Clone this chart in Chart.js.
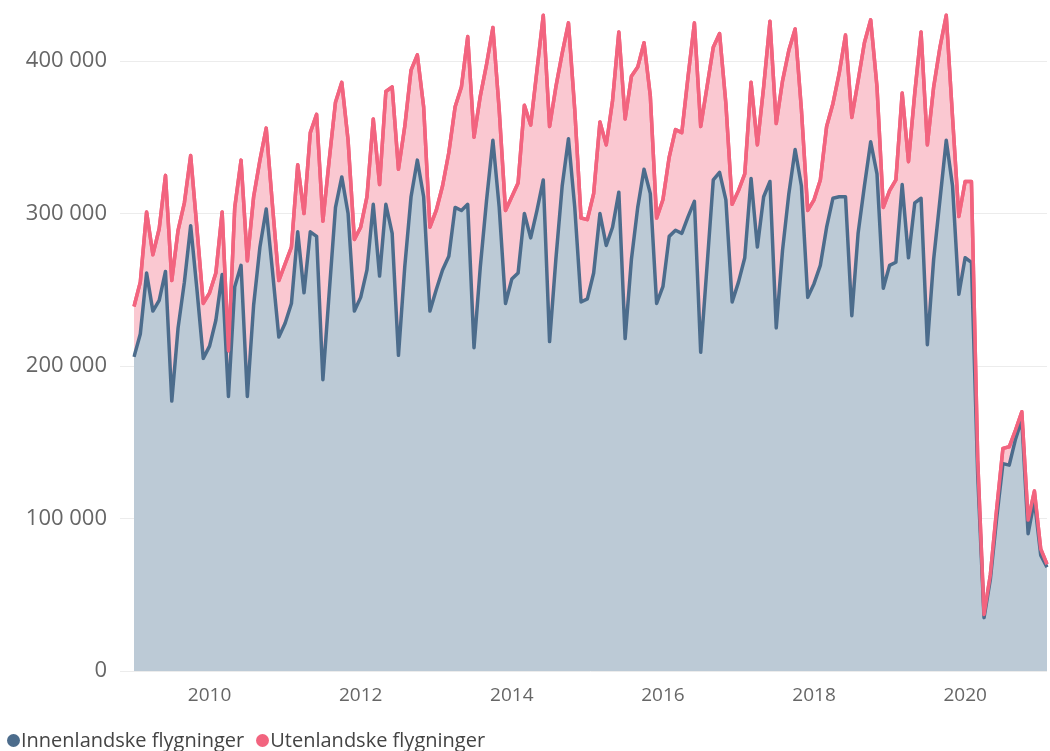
<!DOCTYPE html>
<html lang="no">
<head>
    <meta charset="UTF-8">
    <title>Flygninger</title>
    <style>
        * {
            margin: 0;
            padding: 0;
            box-sizing: border-box;
        }

        body {
            background: #fff;
            font-family: 'Open Sans', sans-serif;
            overflow: hidden;
        }

        .wrap {
            position: relative;
            width: 1050px;
            height: 751px;
        }

        /* legend under the x axis */
        .legend {
            position: absolute;
            left: 7px;
            top: 726px;
            font-size: 20px;
            color: #444;
            white-space: nowrap;
        }

        .legend span {
            display: inline-block;
            margin-right: 12px;
        }

        .legend i {
            display: inline-block;
            width: 13px;
            height: 13px;
            border-radius: 50%;
            margin-right: 1px;
        }
    </style>
    <script src="https://cdn.jsdelivr.net/npm/chart.js"></script>
</head>
<body>
    <div class="wrap">
        <canvas id="flyChart"></canvas>
        <div class="legend" id="legend"></div>
    </div>
    <script>
        // Monthly figures, Jan 2009 - Feb 2021
        const startYear = 2009;
        const seriesNames = ['Innenlandske flygninger', 'Utenlandske flygninger'];

        const innenlandske = [
            206000, 221000, 261000, 236000, 243000, 262000, 177000, 225000, 255000, 292000, 250000, 205000,
            213000, 230000, 260000, 180000, 252000, 266000, 180000, 240000, 278000, 303000, 262000, 219000,
            228000, 241000, 288000, 248000, 288000, 285000, 191000, 248000, 304000, 324000, 300000, 236000,
            245000, 263000, 306000, 259000, 306000, 287000, 207000, 265000, 311000, 335000, 311000, 236000,
            250000, 263000, 272000, 304000, 302000, 306000, 212000, 265000, 309000, 348000, 304000, 241000,
            257000, 261000, 300000, 284000, 302000, 322000, 216000, 270000, 318000, 349000, 304000, 242000,
            244000, 261000, 300000, 279000, 291000, 314000, 218000, 270000, 304000, 329000, 313000, 241000,
            252000, 285000, 289000, 287000, 298000, 308000, 209000, 265000, 322000, 327000, 309000, 242000,
            255000, 271000, 323000, 278000, 311000, 321000, 225000, 276000, 313000, 342000, 318000, 245000,
            254000, 266000, 291000, 310000, 311000, 311000, 233000, 287000, 318000, 347000, 326000, 251000,
            266000, 268000, 319000, 271000, 307000, 310000, 214000, 270000, 309000, 348000, 318000, 247000,
            271000, 268000, 128000, 35000, 60000, 100000, 136000, 135000, 152000, 165000, 90000, 112000,
            76000, 68000
        ];

        const utenlandske = [
            33000, 34000, 40000, 37000, 47000, 63000, 79000, 64000, 52000, 46000, 40000, 36000,
            35000, 31000, 41000, 30000, 52000, 69000, 89000, 71000, 57000, 53000, 43000, 37000,
            39000, 37000, 44000, 52000, 65000, 80000, 104000, 87000, 69000, 62000, 48000, 47000,
            46000, 48000, 56000, 60000, 74000, 96000, 122000, 92000, 83000, 69000, 59000, 55000,
            52000, 55000, 68000, 66000, 81000, 110000, 138000, 112000, 89000, 74000, 64000, 61000,
            54000, 59000, 71000, 74000, 92000, 108000, 141000, 113000, 87000, 76000, 64000, 55000,
            52000, 52000, 60000, 66000, 83000, 105000, 144000, 120000, 92000, 83000, 64000, 56000,
            57000, 52000, 66000, 66000, 92000, 117000, 148000, 118000, 87000, 91000, 63000, 64000,
            60000, 55000, 63000, 67000, 72000, 105000, 134000, 111000, 94000, 79000, 50000, 57000,
            55000, 56000, 66000, 62000, 81000, 106000, 130000, 100000, 94000, 80000, 57000, 53000,
            49000, 54000, 60000, 63000, 72000, 109000, 131000, 113000, 100000, 82000, 45000, 51000,
            50000, 53000, 10000, 2000, 3000, 6000, 10000, 12000, 6000, 5000, 9000, 6000,
            4000, 2000
        ];

        const yTicks = [0, 100000, 200000, 300000, 400000];
        const xTickLabels = ['2010', '2012', '2014', '2016', '2018', '2020'];

        const colors = {
            blueLine: '#4c6c8c',
            blueFill: 'rgb(188, 202, 214)',
            pinkLine: '#f2647f',
            pinkFill: 'rgb(250, 200, 209)'
        };

        // month labels like "2009-01"
        const months = [];
        for (let i = 0; i < innenlandske.length; i++) {
            const y = startYear + Math.floor(i / 12);
            const m = (i % 12) + 1;
            months.push(y + '-' + (m < 10 ? '0' + m : m));
        }

        function formatNumber(v) {
            return String(v).replace(/\B(?=(\d{3})+(?!\d))/g, ' ');
        }

        // draw the pink (stacked) line once more so it sits on top of the blue one
        const pinkOnTop = {
            id: 'pinkOnTop',
            afterDatasetsDraw(chart) {
                const meta = chart.getDatasetMeta(1);
                const area = chart.chartArea;
                const c = chart.ctx;
                c.save();
                c.beginPath();
                c.rect(area.left - 2, area.top - 2, area.width + 4, area.height + 4);
                c.clip();
                meta.dataset.draw(c);
                c.restore();
            }
        };

        const ctx = document.getElementById('flyChart').getContext('2d');
        new Chart(ctx, {
            type: 'line',
            data: {
                labels: months,
                datasets: [{
                    label: seriesNames[0],
                    data: innenlandske,
                    borderColor: colors.blueLine,
                    backgroundColor: colors.blueFill,
                    borderWidth: 3.5,
                    borderJoinStyle: 'round',
                    fill: 'origin',
                    pointRadius: 0,
                    tension: 0
                }, {
                    label: seriesNames[1],
                    data: utenlandske,
                    borderColor: colors.pinkLine,
                    backgroundColor: colors.pinkFill,
                    borderWidth: 3.5,
                    borderJoinStyle: 'round',
                    fill: '-1',
                    pointRadius: 0,
                    tension: 0
                }]
            },
            plugins: [pinkOnTop],
            options: {
                responsive: true,
                maintainAspectRatio: false,
                animation: false,
                layout: {
                    padding: { left: 0, right: 3, top: 0, bottom: 0 }
                },
                plugins: {
                    legend: { display: false },
                    tooltip: { enabled: false },
                    filler: { drawTime: 'beforeDatasetsDraw' }
                },
                scales: {
                    x: {
                        offset: false,
                        grid: { display: false, drawTicks: false },
                        border: { display: false },
                        ticks: {
                            autoSkip: false,
                            maxRotation: 0,
                            padding: 13,
                            color: '#666',
                            font: { family: 'Open Sans', size: 19 },
                            callback: function(value, index) {
                                const label = months[index];
                                const year = label.slice(0, 4);
                                if (label.endsWith('-01') && xTickLabels.includes(year)) {
                                    return year;
                                }
                                return '';
                            }
                        },
                        afterFit: function(scale) {
                            scale.height = 80;
                            scale.paddingLeft = 0;
                            scale.paddingRight = 0;
                        }
                    },
                    y: {
                        stacked: true,
                        min: 0,
                        max: 440000,
                        grid: {
                            color: '#ececec',
                            lineWidth: 1,
                            tickLength: 14
                        },
                        border: { display: false },
                        ticks: {
                            padding: 13,
                            color: '#666',
                            font: { family: 'Open Sans', size: 22 },
                            callback: v => formatNumber(v)
                        },
                        afterBuildTicks: function(scale) {
                            scale.ticks = yTicks.map(v => ({ value: v }));
                        },
                        afterFit: function(scale) {
                            scale.width = 134;
                            scale.paddingTop = 0;
                            scale.paddingBottom = 0;
                        }
                    }
                }
            }
        });

        // html legend
        const legend = document.getElementById('legend');
        legend.innerHTML =
            '<span><i style="background:' + colors.blueLine + '"></i>' + seriesNames[0] + '</span>' +
            '<span><i style="background:' + colors.pinkLine + '"></i>' + seriesNames[1] + '</span>';
    </script>
</body>
</html>
